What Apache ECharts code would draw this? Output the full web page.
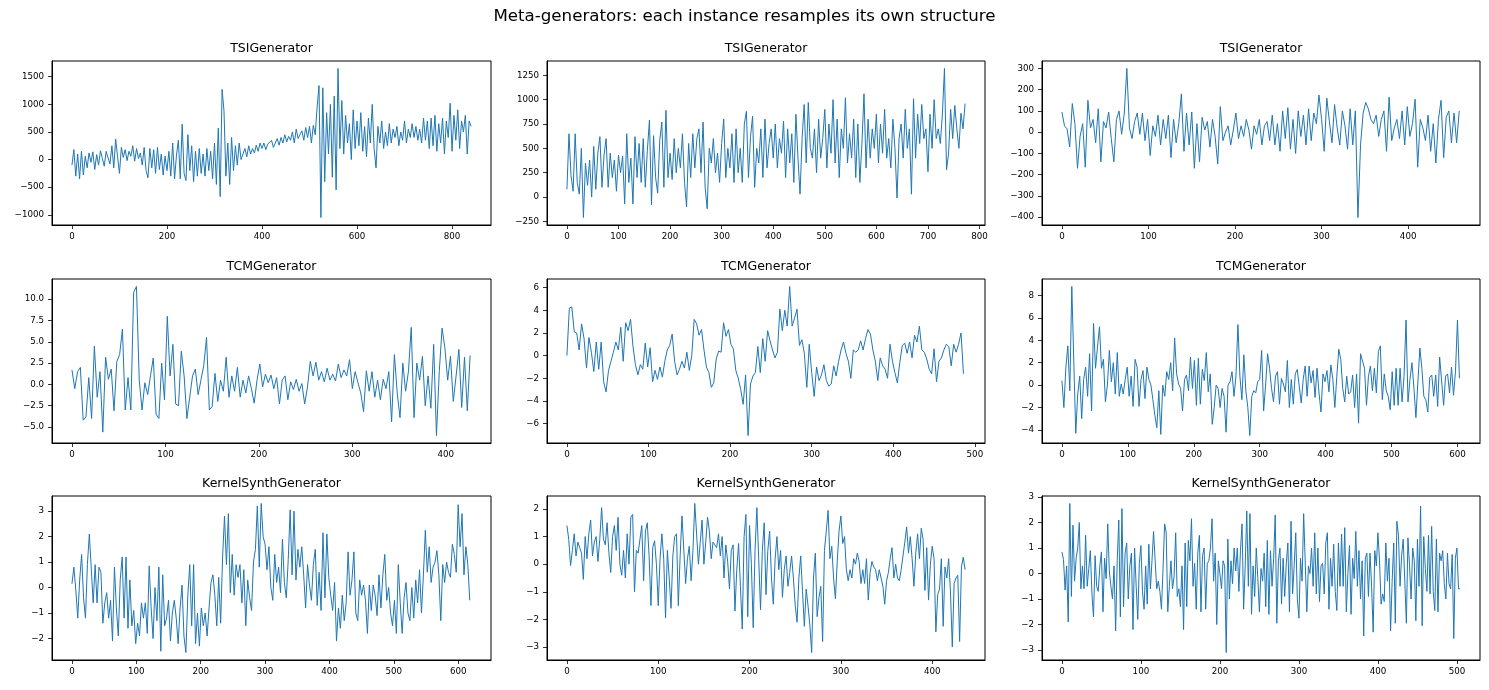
<!DOCTYPE html>
<html><head><meta charset="utf-8">
<script src="https://cdn.jsdelivr.net/npm/echarts@6/dist/echarts.min.js"></script>
<style>html,body{margin:0;padding:0;background:#fff}#c{width:1489px;height:690px}</style>
</head><body><div id="c"></div>
<script>
const suptitle = 'Meta-generators: each instance resamples its own structure';
const panelTitles = ['TSIGenerator','TSIGenerator','TSIGenerator','TCMGenerator','TCMGenerator','TCMGenerator','KernelSynthGenerator','KernelSynthGenerator','KernelSynthGenerator'];

// sampling step (index units) of each series and the last index of the original series
const sampleStep = [4,4,3,3,3,3,3,2,2];
const lastIndex = [840,772,460,427,488,604,620,436,504];

const tsi1 = [
-100,180,-300,100,-350,150,-280,60,-150,120,
-50,140,-180,90,-100,160,20,-120,150,30,
-80,250,-150,370,50,-250,220,40,180,-20,
150,60,250,-30,200,20,120,-100,220,-200,
-330,200,-150,180,-250,220,-180,100,-280,60,
-200,150,-300,300,-350,80,350,-350,640,-250,
-380,450,-200,250,-400,150,-300,200,-250,100,
-300,200,-200,150,-350,300,-450,570,-670,1270,
880,-300,300,-450,400,-200,250,-100,300,0,
100,200,50,250,100,200,120,260,150,300,
200,300,180,280,250,350,220,300,380,260,
400,300,450,320,420,350,500,300,550,380,
450,520,350,580,400,600,300,620,450,950,
1340,-1050,1300,-400,850,100,1000,-320,1150,-550,
1650,200,1070,100,800,300,650,0,900,200,
700,250,850,150,600,50,750,300,1000,200,
-150,600,300,700,200,500,250,650,300,550,
400,600,250,500,350,700,300,550,400,650,
400,600,350,550,300,750,350,700,200,750,
250,800,150,650,300,750,100,700,400,1020,
150,800,350,900,200,700,500,800,100,700,
600];

const tsi2 = [
80,650,220,60,650,150,30,500,-210,350,
120,380,0,520,80,450,620,100,430,600,
100,450,200,380,60,430,250,420,-70,650,
150,400,-70,620,200,550,150,600,100,480,
790,-80,630,200,40,580,770,100,890,200,
450,180,600,250,500,300,650,150,-100,550,
200,650,300,600,700,250,770,100,-120,500,
350,600,250,450,150,550,800,200,500,300,
650,150,700,250,500,150,750,880,200,620,
830,100,500,350,700,200,800,300,550,700,
400,750,300,600,450,780,200,700,350,650,
150,850,400,30,600,950,350,970,500,400,
700,250,800,400,600,900,300,750,450,1000,
350,800,200,700,500,1020,350,650,400,800,
200,750,150,550,1060,300,800,400,700,500,
850,350,750,450,900,400,600,300,800,500,
-10,600,750,400,900,500,700,30,1010,400,
850,550,950,600,700,260,850,500,1000,600,
700,550,850,1320,280,450,900,600,940,700,
500,860,700,960];

const tsi3 = [
95,30,15,-70,135,40,-170,-20,40,-165,
150,20,60,-50,110,-140,50,20,95,-30,
-140,60,100,-10,85,300,20,-30,50,90,
-10,90,-40,60,-110,30,-20,80,-60,60,
-30,80,-120,60,-50,40,180,-90,90,-60,
95,-170,40,-140,70,10,50,-70,60,-20,
-150,120,-40,0,30,-60,10,90,-30,30,
-20,60,10,-80,30,-10,60,-60,30,50,
-40,80,-60,40,-90,100,-30,115,-80,60,
-100,100,-20,80,-60,110,-40,90,40,175,
60,-90,160,50,-50,130,20,-60,100,30,
-80,110,-60,100,-402,-60,90,140,110,60,
40,80,-20,60,100,-90,165,-40,20,60,
-30,100,-60,120,-20,40,155,-165,60,20,
-40,80,-90,40,-145,60,150,-120,70,100,
-50,90,-50,100];

const tcm1 = [
1.7,-0.5,1.5,2.0,-4.2,-3.8,0.8,-4.0,4.5,-1.5,
1.5,-5.6,3.2,0.6,1.8,-3.1,2.7,3.5,6.5,-3.0,
0.8,-3.0,10.8,11.5,0.5,-3.0,0.2,-1.2,1.0,3.1,
-3.5,-4.0,2.5,-1.8,8.0,1.0,4.7,-2.3,-2.5,3.9,
1.0,-4.0,-1.5,1.0,1.8,-1.2,0.5,2.2,5.5,-3.0,
-2.6,1.3,-2.0,0.5,-0.8,3.2,-1.5,1.0,-0.8,2.0,
-1.5,0.5,-1.0,1.0,-0.5,-2.2,0.5,2.4,-0.3,1.2,
0.2,1.1,-0.5,0.8,-2.3,0.5,1.0,-1.8,0.3,-0.6,
0.6,-0.8,0.1,-2.3,-0.3,2.7,1.0,2.6,0.5,1.5,
0.3,1.9,0.5,1.2,0.4,2.4,0.8,1.7,1.0,2.9,
-0.5,1.5,0.2,-1.0,-3.2,1.6,-0.8,1.5,-1.5,0.5,
-1.8,0.6,-0.5,1.5,-4.4,3.5,-1.0,-3.9,2.5,-0.8,
1.5,6.7,-3.9,2.5,0.5,3.3,-2.5,1.0,-2.8,4.7,
-6.0,1.5,6.6,4.3,0.5,3.3,-2.0,1.0,4.1,-2.7,
3.2,-3.1,3.4];

const tcm2 = [
0,4.2,4.3,2.1,2.0,0.5,2.8,1.5,-1.1,1.6,
0.3,-1.4,1.2,-1.2,1.2,-2.3,-3.2,-1.3,-0.5,0.3,
1.2,0.5,2.5,-0.5,2.9,2.2,3.2,0.8,-0.8,-1.7,
-0.8,-1.2,1.1,-1.0,0.7,-2.3,-1.3,-2.1,-1.0,-1.9,
-0.5,0.5,0.9,1.9,-0.5,-1.7,-1.2,-0.5,-1.1,0.3,
-1.3,0,3.2,2.8,1.8,2.3,0.5,-1.0,-1.5,-2.8,
-2.4,-0.3,0.4,0.3,2.9,1.7,2.3,1.0,0.6,-1.3,
-2.0,-3.0,-4.3,-1.7,-7.05,-2.5,-1.8,-1.5,0.8,-1.5,
1.5,-0.5,2.2,1.3,0.5,-0.2,0.3,4.1,2.2,4.0,
2.6,6.1,2.6,3.3,4.1,0.9,1.4,0.2,-2.8,1.0,
-1.5,-3.6,-1.0,-2.2,-1.7,-0.8,-2.2,-2.7,-2.5,-0.9,
-1.8,-0.5,0.5,1.2,0.2,-0.5,-2.0,0.5,0.3,0.5,
1.3,0.5,1.5,2.3,1.9,0.5,-0.5,-2.2,-0.2,-0.9,
-1.2,-2.0,1.0,-0.5,-1.5,-2.4,-0.6,0.9,1.1,0.2,
1.2,-0.2,1.8,1.2,2.6,0.5,0.3,-0.3,-1.2,-1.6,
0.6,-2.3,-0.5,-0.2,0.5,1.0,0.8,-0.9,1.0,0.3,
1.0,2.0,-1.6];

const tcm3 = [
0.4,-2.0,1.6,3.5,-0.5,8.8,2.2,-4.3,-0.8,0.8,
-3.0,0.5,1.6,-1.0,2.8,-2.3,5.5,1.5,3.4,5.2,
1.5,2.3,-1.5,0,3.1,0.3,2.0,-0.8,2.9,-1.0,
0.1,-0.8,0.5,1.6,-1.0,0.8,-1.9,2.3,1.6,-1.9,
0.5,1.3,-1.2,1.6,0.5,0,-1.3,-2.7,-3.8,-0.5,
-4.4,0,-1.0,1.2,0.5,2.0,-0.5,4.2,1.0,0.1,
-0.3,-2.3,0.5,0.9,-0.5,2.5,-0.3,2.2,-1.8,2.4,
-1.7,1.4,0.4,2.9,-0.6,1.0,-3.5,-2.0,0,-0.3,
-2.0,-0.3,-1.0,-4.2,0,0.3,1.2,-1.0,0.8,5.4,
0.8,-1.3,2.7,-0.5,-2.0,-4.5,-1.0,-0.5,-0.7,0.3,
0.5,3.1,-2.3,0,2.8,1.5,-0.3,-1.5,0.8,1.2,
-1.7,0.6,0.1,-0.6,2.2,-2.0,0.5,-1.7,1.0,1.4,
1.5,-1.6,0.5,1.7,-1.0,1.7,0.2,1.3,-1.1,1.5,
-0.7,-2.4,1.0,0.3,1.3,-0.6,1.8,0.5,-2.0,0.8,
3.2,2.3,-0.3,-1.5,0.8,-0.8,-0.6,0.9,-2.0,1.0,
-3.4,2.8,2.8,1.5,-1.8,0.8,1.7,-0.5,1.5,-0.7,
3.0,3.5,-1.3,1.0,-0.5,-1.0,-2.2,1.2,-1.8,1.5,
-1.8,1.5,-1.5,0.8,5.8,-1.5,0.5,2.0,-0.3,-2.9,
0.3,3.3,1.5,-1.0,-1.3,-2.4,0.7,0.9,-1.0,0.9,
-1.9,2.5,2.6,-1.8,0.8,1.0,-0.7,1.6,-0.9,1.2,
5.8,0.6];

const ks1 = [
0.15,0.8,-0.1,-1.2,0.3,1.3,-0.4,-1.2,0.9,2.1,
2.05,-0.6,0.9,-0.6,0.8,0.6,-1.4,-0.6,-0.2,-1.2,
-0.5,-2.1,0.8,-0.8,-1.9,0.3,1.2,-1.2,1.2,-1.6,
0.3,-1.5,-0.9,-2.2,-1.4,-1.9,-0.6,-1.2,-0.6,-1.8,
0.85,-0.8,-2.0,0.0,-1.3,0.8,-2.5,0.5,-1.5,-1.2,
-0.5,-2.1,-1.0,-0.5,-1.2,-2.2,-0.8,0.1,-1.9,-2.55,
-0.3,0.9,-1.5,0.9,-2.2,-1.0,-2.3,-0.8,-1.5,-1.0,
-1.9,-0.8,0.2,0.5,-0.3,-1.5,0.4,-1.4,1.2,2.8,
0.9,2.9,-0.2,1.3,-0.3,0.9,0.4,0.9,-0.6,0.7,
-1.5,0.3,-0.4,-0.9,1.0,1.5,3.2,0.8,3.3,2.0,
1.7,0.7,1.6,0.0,-0.5,1.3,0.2,0.8,-0.2,1.9,
0.2,-0.4,1.1,3.05,0.5,3.0,0.3,1.5,0.8,1.6,
0.5,-0.8,0.9,0.1,-0.5,0.9,1.5,-0.7,0.6,-0.9,
2.15,-0.4,2.1,0.4,-0.3,-0.9,0.2,-2.1,-0.8,-1.6,
-0.3,-1.3,-0.6,1.4,-0.3,0.3,1.4,-1.0,-1.3,0.3,
-0.3,0.1,-0.5,-1.8,0.1,-0.9,0.1,-0.3,-1.1,0.5,
-0.8,0.5,1.3,-0.5,0.0,-1.0,-1.5,-0.5,-1.8,0.9,
-0.6,-1.8,-0.4,0.2,-1.0,-1.3,0.0,-1.2,0.3,-0.6,
0.7,-1.0,0.5,2.25,0.6,1.6,0.2,0.8,1.0,1.45,
0.5,-1.3,0.9,0.2,1.0,0.6,0.4,1.7,1.3,0.6,
3.25,1.6,2.9,0.5,1.6,0.9,-0.5];

const ks2 = [
1.4,0.9,-0.05,0.5,1.1,0.3,0.8,0.75,0.4,-0.55,
1.0,0.2,1.1,1.6,0.3,0.8,1.0,0.1,0.9,2.05,
0.9,0.7,1.5,0.4,-0.3,1.0,1.4,0.5,1.7,0.0,
-0.4,0.5,-0.5,1.1,0.0,1.7,1.8,-1.0,0.5,0.4,
0.4,1.4,-0.6,1.2,1.5,0.3,-1.5,0.6,0.85,0.0,
-1.5,0.2,1.1,0.2,-1.95,0.5,-0.5,-1.6,0.3,1.0,
1.1,-1.5,0.3,1.75,1.7,-0.7,0.2,0.65,-0.6,0.5,
2.2,2.15,0.0,0.8,1.6,0.0,0.8,1.7,1.2,0.2,
0.8,0.8,0.6,1.1,0.3,1.0,-0.5,0.7,0.1,-0.9,
0.5,0.7,-1.7,-0.2,0.75,-0.8,-2.35,1.0,1.8,-1.9,
1.4,0.0,-2.3,0.5,2.05,0.2,-1.65,0.5,1.5,-1.1,
0.5,1.2,-0.5,-1.45,0.2,1.0,-0.2,0.5,-1.2,-0.2,
0.3,-0.8,-0.3,0.3,-0.5,-1.5,-2.1,-0.5,0.3,-1.0,
-2.25,-0.9,-1.5,-2.2,-3.2,-0.5,0.4,-1.9,-1.2,-0.8,
-2.8,0.5,1.2,1.95,0.2,0.65,-0.5,-1.25,0.1,1.2,
1.75,0.75,1.0,-0.2,-0.6,-0.2,-0.5,0.2,0.0,0.4,
0.1,-0.7,-0.2,-0.7,0.2,-1.3,-0.3,0.1,-0.1,-0.2,
-0.6,-0.2,-0.5,-0.8,-1.45,-0.6,-0.3,0.2,0.6,-0.5,
0.0,-0.5,-0.6,-0.2,0.3,0.8,1.35,0.4,1.0,0.2,
-0.8,0.4,1.1,0.2,1.3,0.9,-0.95,0.6,-1.3,0.0,
0.65,0.2,-2.45,-1.1,-0.9,0.2,-2.25,-0.1,-0.5,0.2,
-1.0,-3.0,-0.7,-0.5,-0.4,-2.8,-0.1,0.25,-0.2];

const ks3 = [
0.85,0.55,-0.65,0.3,-1.9,2.75,-0.9,1.9,-0.3,0.6,
1.0,2.0,-0.6,0.3,-0.6,1.5,-0.5,0.2,0.9,-0.8,
-1.7,0.7,-0.5,-0.7,0.3,0.85,-1.5,0.6,-0.2,1.95,
0.1,-0.5,-1.0,0.3,-2.25,0.5,2.1,-1.7,2.55,-1.3,
0.8,1.2,-1.0,0.3,0.8,-2.2,1.0,-0.5,-1.8,0.4,
1.1,-0.7,-1.4,0.3,-1.2,1.15,-0.6,0.5,1.65,1.7,
-0.6,-0.3,-0.7,-1.4,0.2,1.95,1.6,-1.5,-0.5,0.5,
-0.6,-0.1,1.6,-0.9,-0.6,-1.3,0.3,-2.2,1.2,-1.3,
1.3,0.5,2.15,-0.5,0.4,-1.4,0.8,1.5,-1.5,0.7,
1.0,-1.4,0.4,0.5,1.0,2.15,-0.3,0.8,-2.0,0.5,
0.0,-0.6,0.5,0.3,-3.1,1.35,-1.0,0.5,-0.4,1.0,
0.1,1.0,-0.7,0.9,1.95,-1.4,0.3,2.45,-0.5,2.35,
-1.6,0.3,-0.9,1.0,-0.2,-1.5,0.2,-0.3,0.8,-1.3,
1.3,-1.6,0.9,-0.5,0.6,2.3,-1.95,0.5,1.0,-1.2,
0.6,-0.9,0.4,1.2,-1.5,2.05,-0.8,0.3,1.6,-1.0,
-1.75,0.6,-0.3,2.35,2.4,-1.5,0.3,0.0,1.0,-0.5,
1.6,-0.8,1.0,-1.1,0.3,0.4,-0.8,1.2,1.6,-1.4,
0.6,-0.5,1.15,-0.7,-1.45,1.2,-0.5,1.55,-0.5,1.8,
-1.5,0.0,1.1,-1.6,0.6,-0.2,1.65,-0.5,0.9,-1.0,
0.5,-2.45,0.6,0.8,-0.9,0.8,-0.5,-2.3,0.9,0.3,
1.6,0.5,-1.2,-0.8,-1.1,1.2,-0.3,0.6,-2.25,-0.3,
1.2,-1.95,2.05,1.5,-0.5,0.7,1.35,-0.3,-1.95,1.4,
0.3,-1.0,1.0,0.5,-1.85,1.35,-0.5,2.65,-2.05,1.45,
0.2,-0.7,1.5,-0.8,1.85,-0.7,-1.45,1.35,-1.5,0.8,
0.5,0.9,-0.4,-1.0,0.8,-0.4,-0.6,0.75,-2.55,0.6,
1.0,-0.6,-0.6];

const seriesValues = [tsi1, tsi2, tsi3, tcm1, tcm2, tcm3, ks1, ks2, ks3];

const xTickValues = [
  [0,200,400,600,800],
  [0,100,200,300,400,500,600,700,800],
  [0,100,200,300,400],
  [0,100,200,300,400],
  [0,100,200,300,400,500],
  [0,100,200,300,400,500,600],
  [0,100,200,300,400,500,600],
  [0,100,200,300,400],
  [0,100,200,300,400,500]
];
const yTickValues = [
  [-1000,-500,0,500,1000,1500],
  [-250,0,250,500,750,1000,1250],
  [-400,-300,-200,-100,0,100,200,300],
  [-5,-2.5,0,2.5,5,7.5,10],
  [-6,-4,-2,0,2,4,6],
  [-4,-2,0,2,4,6,8],
  [-2,-1,0,1,2,3],
  [-3,-2,-1,0,1,2],
  [-3,-2,-1,0,1,2,3]
];
const yDecimals = [0,0,0,1,0,0,0,0,0];

// layout (pixels)
const colLeft = [52, 547, 1042];
const colWidth = [439, 438, 438];
const rowTop = [61, 279, 496];
const plotHeight = 164;
const FONT = 'DejaVu Sans';

function fmt(v, d) {
  const s = Math.abs(v).toFixed(d);
  return (v < 0 ? '\u2212' : '') + s;
}

const grids = [], xAxes = [], yAxes = [], series = [], titles = [];
titles.push({text: suptitle, left: 744.5, top: 8, textAlign: 'center', padding: 0,
  textStyle: {fontFamily: FONT, fontSize: 16.67, fontWeight: 'normal', color: '#000'}});

for (let k = 0; k < 9; k++) {
  const r = Math.floor(k / 3), c = k % 3;
  const vals = seriesValues[k];
  const step = sampleStep[k];
  const data = vals.map((v, i) => [i * step, v]);
  const n1 = lastIndex[k];
  const ymin = Math.min(...vals), ymax = Math.max(...vals);
  const yr = ymax - ymin;
  grids.push({left: colLeft[c], top: rowTop[r], width: colWidth[c], height: plotHeight,
    show: true, borderColor: '#000', borderWidth: 1, backgroundColor: '#fff', containLabel: false});
  const dx = yDecimals[k];
  xAxes.push({type: 'value', gridIndex: k, position: 'bottom', min: -0.05 * n1, max: 1.05 * n1,
    splitLine: {show: false},
    axisLine: {show: true, onZero: false, lineStyle: {color: '#000', width: 1}},
    axisTick: {show: true, length: 4, lineStyle: {color: '#000', width: 0.8}, customValues: xTickValues[k]},
    axisLabel: {show: true, margin: 7, fontFamily: FONT, fontSize: 8.7, color: '#000',
      customValues: xTickValues[k], formatter: v => fmt(v, 0)}});
  yAxes.push({type: 'value', gridIndex: k, position: 'left', min: ymin - 0.05 * yr, max: ymax + 0.05 * yr,
    splitLine: {show: false},
    axisLine: {show: true, onZero: false, lineStyle: {color: '#000', width: 1}},
    axisTick: {show: true, length: 4, lineStyle: {color: '#000', width: 0.8}, customValues: yTickValues[k]},
    axisLabel: {show: true, margin: 8, fontFamily: FONT, fontSize: 8.7, color: '#000',
      customValues: yTickValues[k], formatter: v => fmt(v, dx)}});
  series.push({type: 'line', xAxisIndex: k, yAxisIndex: k, data: data,
    showSymbol: false, symbol: 'none', silent: true,
    lineStyle: {color: '#1f77b4', width: 1}});
  titles.push({text: panelTitles[k], left: colLeft[c] + colWidth[c] / 2, top: rowTop[r] - 19,
    textAlign: 'center', padding: 0,
    textStyle: {fontFamily: FONT, fontSize: 12.5, fontWeight: 'normal', color: '#000'}});
}

const chart = echarts.init(document.getElementById('c'), null, {renderer: 'canvas'});
chart.setOption({
  animation: false,
  backgroundColor: '#fff',
  title: titles,
  grid: grids,
  xAxis: xAxes,
  yAxis: yAxes,
  series: series
});
</script>
</body></html>
